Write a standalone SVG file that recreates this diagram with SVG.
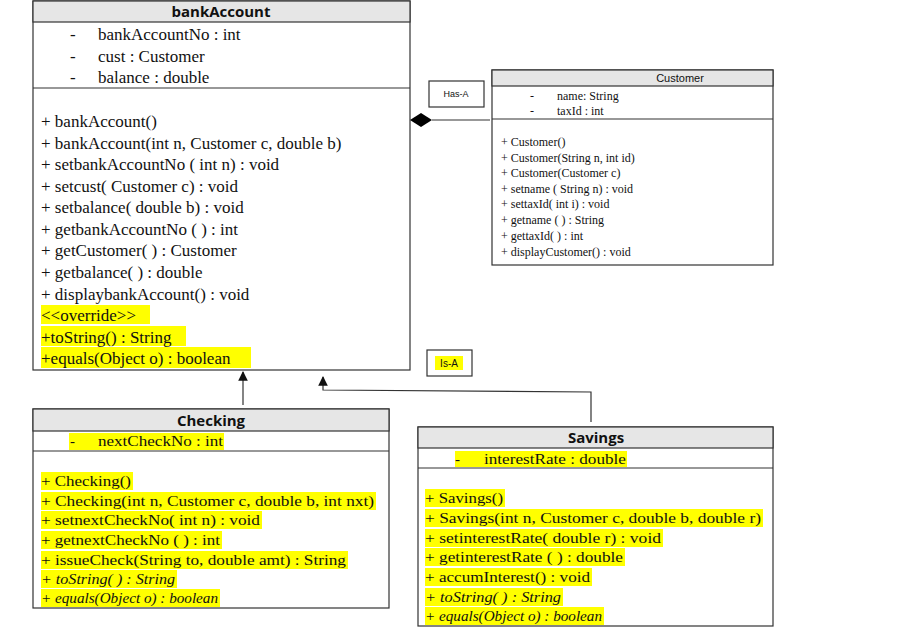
<svg xmlns="http://www.w3.org/2000/svg" width="898" height="634" viewBox="0 0 898 634">
<style>
.box{fill:#fff;stroke:#333;stroke-width:1.2}
.hd{fill:#e6e6e6;stroke:#333;stroke-width:1.2}
.ln{stroke:#333;stroke-width:1.2}
.ttl{font-family:"Open Sans","Liberation Sans",sans-serif;font-weight:bold;font-size:15px;fill:#111;text-anchor:middle}
.s17{font-family:"Liberation Serif",serif;font-size:17px;fill:#111}
.s12{font-family:"Liberation Serif",serif;font-size:12px;fill:#111}
.s15{font-family:"Liberation Serif",serif;font-size:15px;fill:#111}
.it{font-style:italic}
.hl{fill:#ffff00}
.lbl{font-family:"Liberation Sans",sans-serif;font-size:9px;fill:#111;text-anchor:middle}
.con{fill:none;stroke:#333;stroke-width:1.2}
</style>
<defs>
<marker id="tri" viewBox="0 0 10 10" refX="9" refY="5" markerWidth="8" markerHeight="8" orient="auto"><path d="M0,0 L10,5 L0,10 z" fill="#111"/></marker>
</defs>
<g id="bankAccount">
<rect class="box" x="33" y="1" width="377" height="369"/>
<rect class="hd" x="33" y="1" width="377" height="21"/>
<text class="ttl" x="221" y="17">bankAccount</text>
<line class="ln" x1="33" y1="88" x2="410" y2="88"/>
<text class="s17" x="70" y="40">-</text><text class="s17" x="98" y="40">bankAccountNo : int</text>
<text class="s17" x="70" y="62">-</text><text class="s17" x="98" y="62">cust : Customer</text>
<text class="s17" x="70" y="83">-</text><text class="s17" x="98" y="83">balance : double</text>
<text class="s17" x="41" y="127">+ bankAccount()</text>
<text class="s17" x="41" y="149">+ bankAccount(int n, Customer c, double b)</text>
<text class="s17" x="41" y="170">+ setbankAccountNo ( int n) : void</text>
<text class="s17" x="41" y="192">+ setcust( Customer c) : void</text>
<text class="s17" x="41" y="213">+ setbalance( double b) : void</text>
<text class="s17" x="41" y="235">+ getbankAccountNo ( ) : int</text>
<text class="s17" x="41" y="256">+ getCustomer( ) : Customer</text>
<text class="s17" x="41" y="278">+ getbalance( ) : double</text>
<text class="s17" x="41" y="300">+ displaybankAccount() : void</text>
<rect class="hl" x="41" y="305" width="109" height="19"/>
<rect class="hl" x="41" y="326" width="145" height="20"/>
<rect class="hl" x="41" y="347" width="210" height="21"/>
<text class="s17" x="41" y="321">&lt;&lt;override&gt;&gt;</text>
<text class="s17" x="41" y="343">+toString() : String</text>
<text class="s17" x="41" y="364">+equals(Object o) : boolean</text>
</g>
<g id="Customer">
<rect class="box" x="492" y="70" width="281" height="195"/>
<rect class="hd" x="492" y="70" width="281" height="16"/>
<text x="680" y="82" style="font-family:'Liberation Sans',sans-serif;font-size:11px;fill:#111;text-anchor:middle">Customer</text>
<line class="ln" x1="492" y1="119" x2="773" y2="119"/>
<text class="s12" x="530" y="100">-</text><text class="s12" x="557" y="100">name: String</text>
<text class="s12" x="530" y="115">-</text><text class="s12" x="557" y="115">taxId : int</text>
<text class="s12" x="501" y="146">+ Customer()</text>
<text class="s12" x="501" y="162">+ Customer(String n, int id)</text>
<text class="s12" x="501" y="177">+ Customer(Customer c)</text>
<text class="s12" x="501" y="193">+ setname ( String n) : void</text>
<text class="s12" x="501" y="208">+ settaxId( int i) : void</text>
<text class="s12" x="501" y="224">+ getname ( ) : String</text>
<text class="s12" x="501" y="240">+ gettaxId( ) : int</text>
<text class="s12" x="501" y="256">+ displayCustomer() : void</text>
</g>
<g id="HasA">
<rect class="box" x="429" y="81" width="55" height="26"/>
<text class="lbl" x="456" y="97">Has-A</text>
</g>
<g id="IsA">
<rect class="box" x="427" y="350" width="45" height="26"/>
<rect class="hl" x="435" y="356" width="28" height="14"/>
<text class="lbl" x="449" y="367" style="font-size:10px">Is-A</text>
</g>
<g id="Checking">
<rect class="box" x="33" y="409" width="356" height="199"/>
<rect class="hd" x="33" y="409" width="356" height="22"/>
<text class="ttl" x="211" y="426">Checking</text>
<line class="ln" x1="33" y1="451" x2="389" y2="451"/>
<rect class="hl" x="69" y="433" width="155" height="17"/>
<text class="s15" x="70" y="446">-</text><text class="s15" x="98" y="446" textLength="125" lengthAdjust="spacingAndGlyphs">nextCheckNo : int</text>
<rect class="hl" x="41" y="472" width="92" height="18"/>
<rect class="hl" x="41" y="492" width="335" height="18"/>
<rect class="hl" x="41" y="511" width="221" height="18"/>
<rect class="hl" x="41" y="531" width="181" height="18"/>
<rect class="hl" x="41" y="551" width="307" height="18"/>
<rect class="hl" x="41" y="570" width="136" height="18"/>
<rect class="hl" x="41" y="589" width="179" height="18"/>
<text class="s15" x="41" y="486" textLength="90" lengthAdjust="spacingAndGlyphs">+ Checking()</text>
<text class="s15" x="41" y="506" textLength="333" lengthAdjust="spacingAndGlyphs">+ Checking(int n, Customer c, double b, int nxt)</text>
<text class="s15" x="41" y="525" textLength="219" lengthAdjust="spacingAndGlyphs">+ setnextCheckNo( int n) : void</text>
<text class="s15" x="41" y="545" textLength="179" lengthAdjust="spacingAndGlyphs">+ getnextCheckNo ( ) : int</text>
<text class="s15" x="41" y="565" textLength="305" lengthAdjust="spacingAndGlyphs">+ issueCheck(String to, double amt) : String</text>
<text class="s15 it" x="41" y="584" textLength="134" lengthAdjust="spacingAndGlyphs">+ toString( ) : String</text>
<text class="s15 it" x="41" y="603" textLength="177" lengthAdjust="spacingAndGlyphs">+ equals(Object o) : boolean</text>
</g>
<g id="Savings">
<rect class="box" x="418" y="427" width="355" height="199"/>
<rect class="hd" x="418" y="427" width="355" height="21"/>
<text class="ttl" x="596" y="443">Savings</text>
<line class="ln" x1="418" y1="468" x2="773" y2="468"/>
<rect class="hl" x="455" y="451" width="172" height="16"/>
<text class="s15" x="455" y="464">-</text><text class="s15" x="484" y="464" textLength="142" lengthAdjust="spacingAndGlyphs">interestRate : double</text>
<rect class="hl" x="425" y="489" width="80" height="18"/>
<rect class="hl" x="425" y="509" width="338" height="18"/>
<rect class="hl" x="425" y="529" width="238" height="18"/>
<rect class="hl" x="425" y="548" width="200" height="18"/>
<rect class="hl" x="425" y="568" width="167" height="18"/>
<rect class="hl" x="425" y="588" width="138" height="18"/>
<rect class="hl" x="425" y="607" width="179" height="18"/>
<text class="s15" x="425" y="503" textLength="78" lengthAdjust="spacingAndGlyphs">+ Savings()</text>
<text class="s15" x="425" y="523" textLength="336" lengthAdjust="spacingAndGlyphs">+ Savings(int n, Customer c, double b, double r)</text>
<text class="s15" x="425" y="543" textLength="236" lengthAdjust="spacingAndGlyphs">+ setinterestRate( double r) : void</text>
<text class="s15" x="425" y="562" textLength="198" lengthAdjust="spacingAndGlyphs">+ getinterestRate ( ) : double</text>
<text class="s15" x="425" y="582" textLength="165" lengthAdjust="spacingAndGlyphs">+ accumInterest() : void</text>
<text class="s15 it" x="425" y="602" textLength="136" lengthAdjust="spacingAndGlyphs">+ toString( ) : String</text>
<text class="s15 it" x="425" y="621" textLength="177" lengthAdjust="spacingAndGlyphs">+ equals(Object o) : boolean</text>
</g>
<g id="connectors">
<line class="con" x1="432" y1="120" x2="490" y2="120"/>
<path d="M410,120 L421,113 L432,120 L421,127 z" fill="#000"/>
<line class="con" x1="243" y1="405" x2="243" y2="372" marker-end="url(#tri)"/>
<polyline class="con" points="591,422 591,392 323,390 323,377" marker-end="url(#tri)"/>
</g>
</svg>
